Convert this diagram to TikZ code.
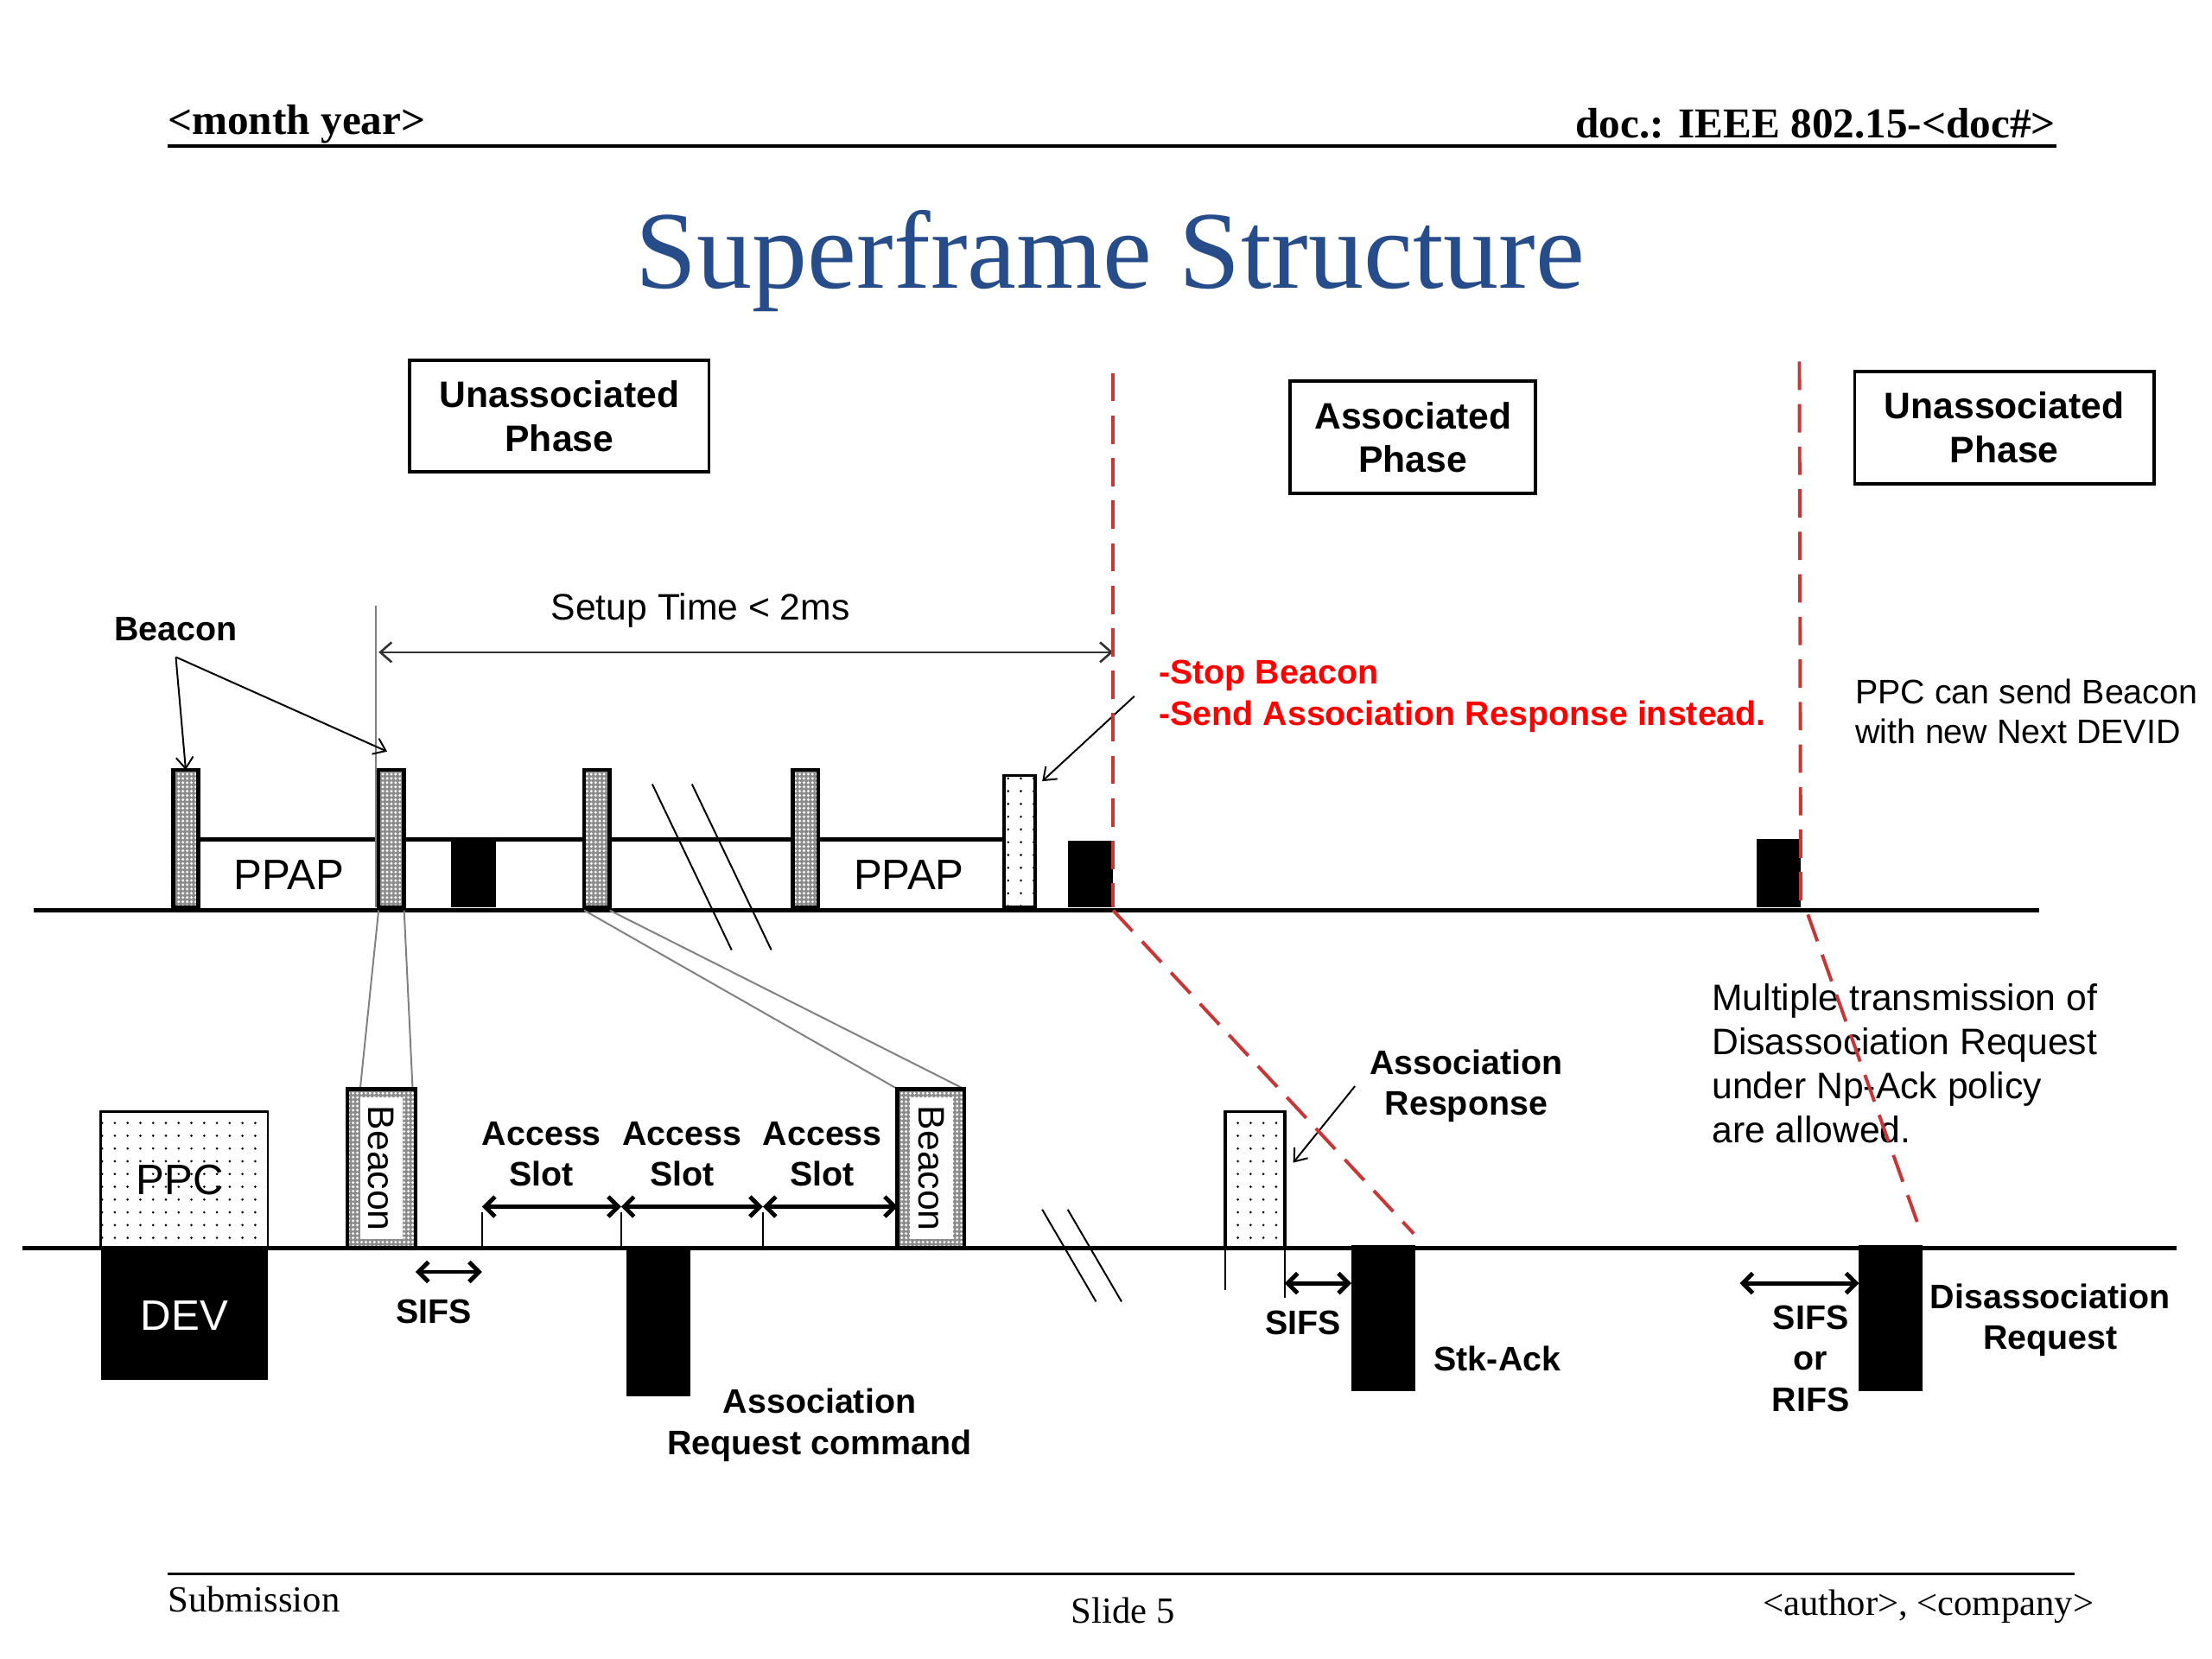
\documentclass[tikz,border=0pt]{standalone}
\usepackage{fontspec}
\setmainfont{Liberation Sans}
\newfontfamily\slidefont{Liberation Serif}
\usetikzlibrary{arrows.meta,patterns.meta}
\definecolor{titleblue}{RGB}{38,76,138}
\definecolor{cutred}{RGB}{200,55,55}

\begin{document}
\begin{tikzpicture}[x=0.5pt,y=0.5pt,yscale=-1,xscale=1,
    lbl/.style={inner sep=0pt,align=center,font=\fontsize{12}{14.5}\selectfont\bfseries},
    note/.style={inner sep=0pt,align=left,font=\fontsize{13}{15.5}\selectfont},
    phase/.style={draw,line width=1.2pt,minimum height=39.5pt,inner sep=0pt,align=center,font=\fontsize{13}{15.5}\selectfont\bfseries},
    slidetxt/.style={inner sep=0pt,font=\fontsize{13}{13}\selectfont\slidefont},
    bigtxt/.style={inner sep=0pt,font=\fontsize{15}{15}\selectfont},
    densebox/.style={fill=black!45,postaction={pattern={Dots[distance=1.5pt,radius=0.5pt]},pattern color=white},postaction={draw,line width=1.4pt}},
    sparsebox/.style={draw,line width=0.8pt,pattern={Dots[distance=4.5pt,radius=0.45pt]}},
    axis/.style={line width=1.5pt},
    thin/.style={line width=0.6pt},
    zoomline/.style={line width=0.6pt,gray},
    cut/.style={cutred,line width=1.2pt,dash pattern=on 10pt off 5pt},
    tip/.style={-{Straight Barb[length=4pt,width=6pt]},line width=0.6pt},
    span/.style={{Straight Barb[length=3.5pt,width=7pt]}-{Straight Barb[length=3.5pt,width=7pt]},line width=1.5pt},
  ]
  \useasboundingbox (0,0) rectangle (1560,1170);
  \fill[white] (0,0) rectangle (1560,1170);

  % Header and footer
  \draw (118,95) node [anchor=base west][inner sep=0pt][font=\fontsize{15}{15}\selectfont\slidefont\bfseries] (month) {<month year>};
  \draw (1450,97) node [anchor=base east][inner sep=0pt][font=\fontsize{15}{15}\selectfont\slidefont\bfseries] (docnum) {doc.: IEEE 802.15-<doc\#>};
  \draw [line width=1pt] (118,103) -- (1450,103);
  \draw (783,203) node [anchor=base][inner sep=0pt][font=\fontsize{39}{39}\selectfont\slidefont,text=titleblue] (title) {Superframe Structure};
  \draw [line width=1pt] (118,1110) -- (1463,1110);
  \draw (118,1137) node [anchor=base west][slidetxt] (submis) {Submission};
  \draw (792,1145) node [anchor=base][slidetxt] (slideno) {Slide 5};
  \draw (1477,1139) node [anchor=base east][slidetxt] (author) {<author>, <company>};

  % Phase boxes
  \node [phase,minimum width=105.5pt] (phA) at (394.5,293.5) {Unassociated\\Phase};
  \node [phase,minimum width=86.5pt] (phB) at (996.5,308.5) {Associated\\Phase};
  \node [phase,minimum width=105.5pt] (phC) at (1413.5,301.5) {Unassociated\\Phase};

  %Shape: upper superframes
  \draw [line width=1.3pt] (140,592) -- (708,592);
  \fill (318,592) rectangle (350,640);
  \fill (753,593) rectangle (785,640);
  \fill (1239,592) rectangle (1270,640);
  \foreach \bx in {122,267,412,559}
    \path [densebox] (\bx,543) rectangle (\bx+18,640);
  \draw [sparsebox,line width=1.1pt] (708,547) rectangle (730,640);
  \draw [axis] (24,642) -- (1438,642);
  \draw [thin] (460,553) -- (516,670);
  \draw [thin] (488,553) -- (544,670);

  % Text Node
  \draw (204,617) node [bigtxt] (ppapA) {PPAP};
  \draw (641,617) node [bigtxt] (ppapB) {PPAP};

  % Setup time
  \coordinate (setupL) at (267,460);
  \coordinate (setupR) at (785,460);
  \draw [zoomline,line width=0.5pt] (265,427) -- (265,640);
  \draw [{Straight Barb[length=4pt,width=7pt]}-{Straight Barb[length=4pt,width=7pt]},line width=0.8pt,black!80] (setupL) -- (setupR);
  \draw (494,437) node [anchor=base][inner sep=0pt][font=\fontsize{13}{13}\selectfont] (setup) {Setup Time < 2ms};

  % Beacon pointers
  \coordinate (b1top) at (131,543);
  \coordinate (b2top) at (273,530);
  \coordinate (b5top) at (735,551);
  \draw (124,444) node [lbl,outer sep=5.5pt] (bcnlbl) {Beacon};
  \draw [tip] (bcnlbl.south) -- (b1top);
  \draw [tip] (bcnlbl.south) -- (b2top);
  \draw (817,491) node [anchor=west][inner sep=0pt,align=left,text=red,font=\fontsize{12}{14.5}\selectfont\bfseries] (stoptxt) {-Stop Beacon\\-Send Association Response instead.};
  \draw [tip] ([xshift=-8.5pt]stoptxt.west) -- (b5top);
  \draw (1308,502) node [anchor=west][inner sep=0pt,align=left,font=\fontsize{12}{14}\selectfont] (ppcnote) {PPC can send Beacon\\with new Next DEVID};

  % Zoom lines
  \draw [zoomline] (267,642) -- (254,768);
  \draw [zoomline] (285,642) -- (291,768);
  \draw [zoomline] (412,642) -- (633,768);
  \draw [zoomline] (430,642) -- (680,768);

  %Shape: lower timeline
  \draw [sparsebox] (71,784) rectangle (189,880);
  \fill (71,880) rectangle (189,973);
  \path [densebox] (245,768) rectangle (293,880);
  \path [densebox] (633,768) rectangle (680,880);
  \fill (442,880) rectangle (487,985);
  \draw [sparsebox,line width=1.1pt] (864,784) rectangle (906,880);
  \fill (953,878) rectangle (998,981);
  \fill (1311,878) rectangle (1356,981);
  \draw [axis] (16,880) -- (1535,880);
  \foreach \tx in {340,438,538}
    \draw [thin] (\tx,855) -- (\tx,880);
  \draw [thin] (864,880) -- (864,910);
  \draw [thin] (906,880) -- (906,915);
  \draw [thin] (735,853) -- (773,918);
  \draw [thin] (753,853) -- (791,918);

  % Text Node
  \draw (127,832) node [bigtxt] (ppc) {PPC};
  \draw (130,928) node [bigtxt,text=white] (dev) {DEV};
  \draw (269,824) node [rotate=-90,fill=white,inner xsep=3pt,inner ysep=3pt,font=\fontsize{13}{13}\selectfont] (bcnA) {Beacon};
  \draw (657,824) node [rotate=-90,fill=white,inner xsep=3pt,inner ysep=3pt,font=\fontsize{13}{13}\selectfont] (bcnB) {Beacon};

  % Slot arrows
  \coordinate (sA) at (340,851);
  \coordinate (sB) at (438,851);
  \coordinate (sC) at (538,851);
  \coordinate (sD) at (633,851);
  \draw [span] (sA) -- (sB);
  \draw [span] (sB) -- (sC);
  \draw [span] (sC) -- (sD);
  \draw (382,814) node [lbl] (slotA) {Access\\Slot};
  \draw (481,814) node [lbl] (slotB) {Access\\Slot};
  \draw (580,814) node [lbl] (slotC) {Access\\Slot};

  % SIFS gaps
  \coordinate (gA1) at (293,897);
  \coordinate (gA2) at (340,897);
  \coordinate (gB1) at (906,905);
  \coordinate (gB2) at (953,905);
  \coordinate (gC1) at (1227,905);
  \coordinate (gC2) at (1311,905);
  \draw [span] (gA1) -- (gA2);
  \draw [span] (gB1) -- (gB2);
  \draw [span] (gC1) -- (gC2);
  \draw (306,925) node [lbl] (sifsA) {SIFS};
  \draw (919,933) node [lbl] (sifsB) {SIFS};
  \draw (1277,958) node [lbl] (sifsC) {SIFS\\or\\RIFS};

  % Text Node
  \draw (578,1005) node [lbl] (areq) {Association\\Request command};
  \draw (1034,766) node [lbl] (arsp) {Association\\Response};
  \coordinate (arspbox) at (912,820);
  \draw [tip] ([xshift=-5pt]arsp.west) -- (arspbox);
  \draw (1056,958) node [lbl] (stkack) {Stk-Ack};
  \draw (1446,931) node [lbl] (dreq) {Disassociation\\Request};
  \draw (1207,750) node [note,anchor=west] (multi) {Multiple transmission of\\Disassociation Request\\under Np-Ack policy\\are allowed.};

  % Phase borders
  \draw [cut] (785,263) -- (785,640);
  \draw [cut] (785,642) -- (997,870);
  \draw [cut] (1269,255) -- (1270,640);
  \draw [cut] (1275,645) -- (1355,870);
\end{tikzpicture}
\end{document}
